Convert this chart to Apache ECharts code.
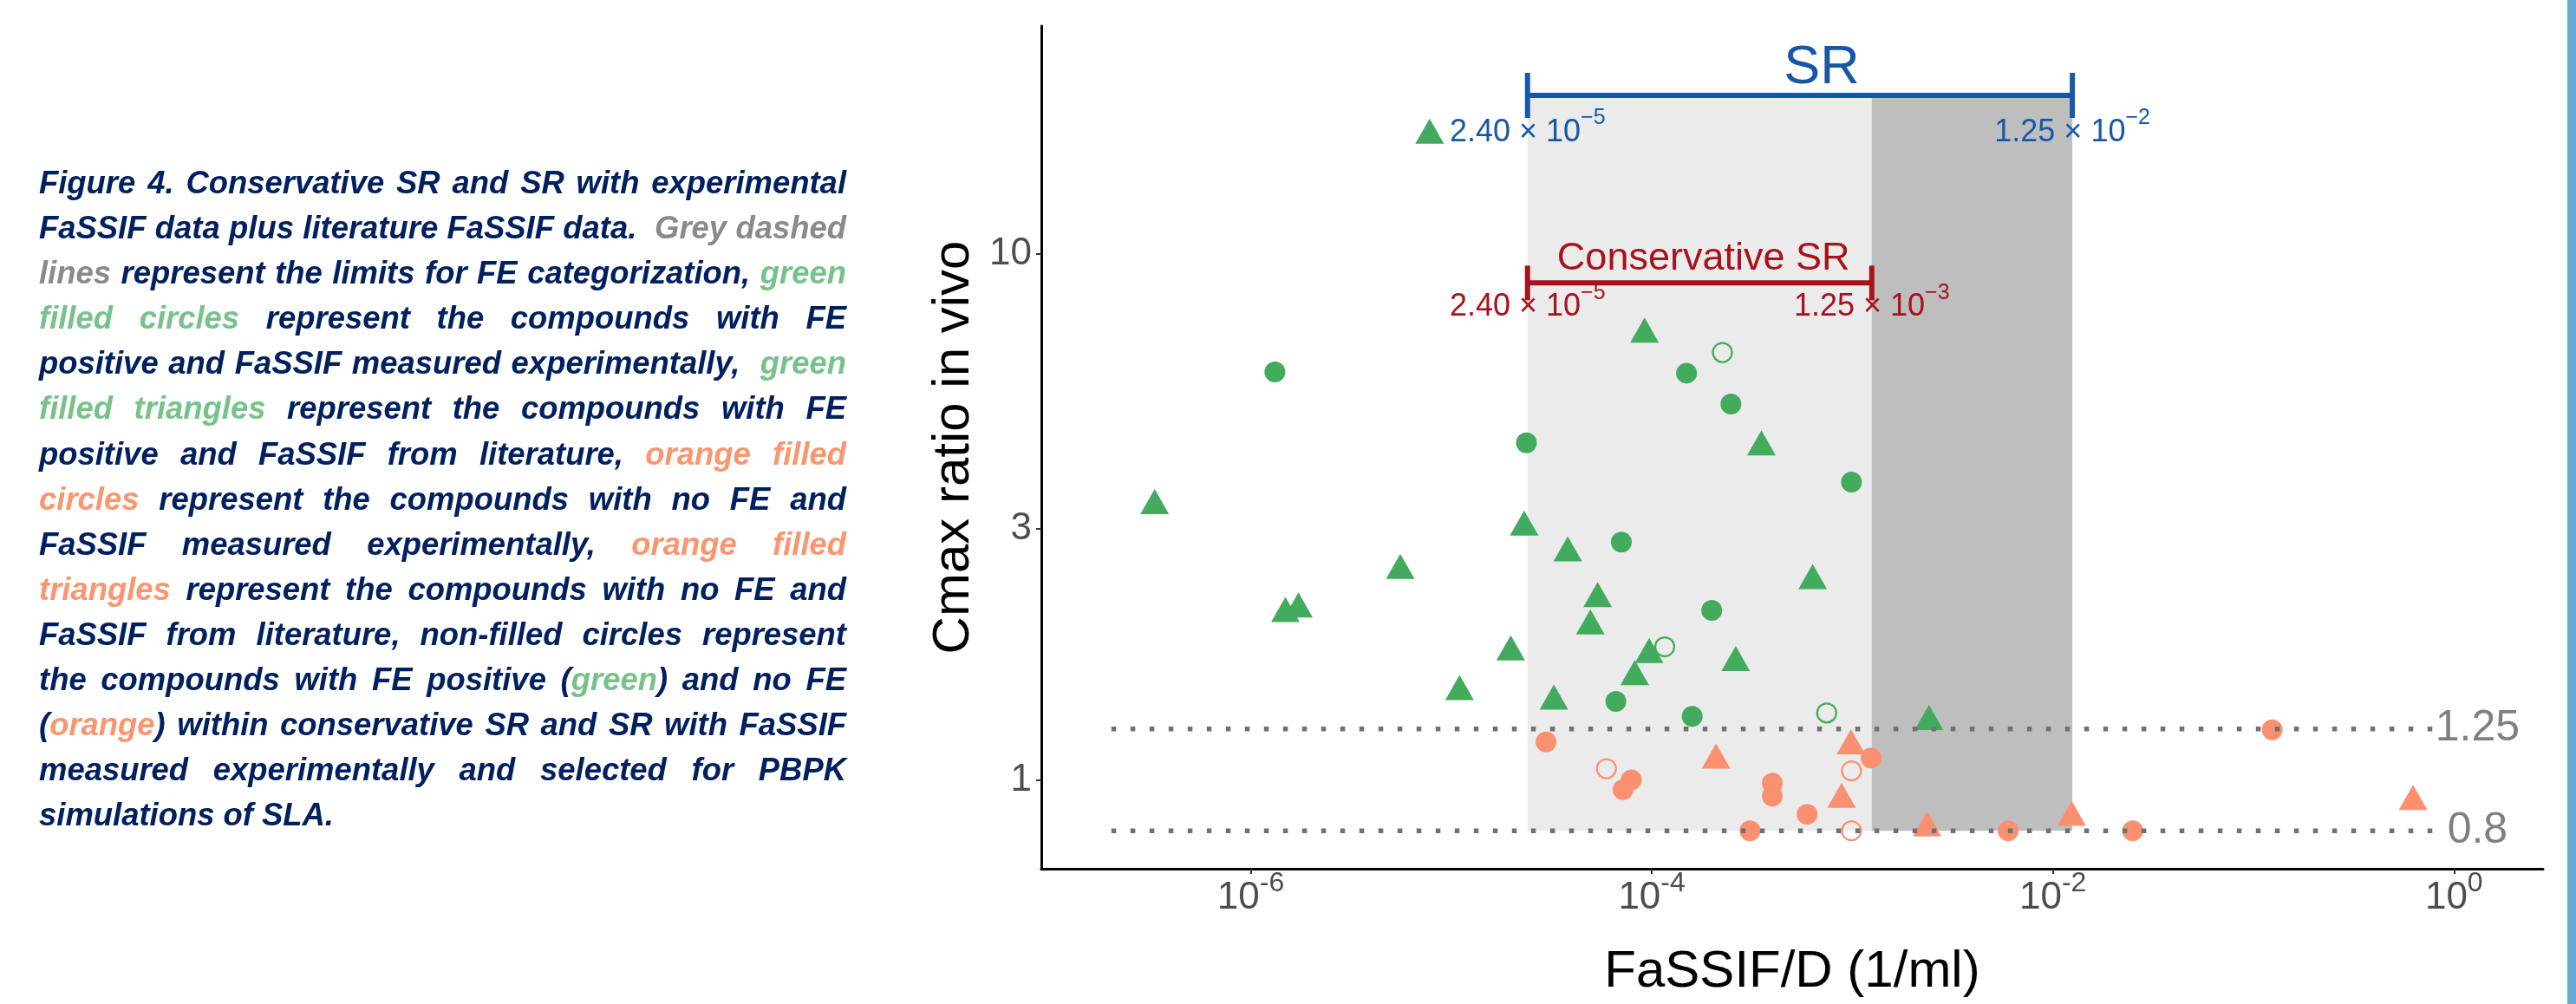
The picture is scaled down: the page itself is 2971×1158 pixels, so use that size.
<!DOCTYPE html>
<html>
<head>
<meta charset="utf-8">
<script src="https://cdn.jsdelivr.net/npm/echarts@6/dist/echarts.min.js"></script>
<style>
html,body{margin:0;padding:0;background:#fff;width:2971px;height:1158px;overflow:hidden}
#chart{position:absolute;left:0;top:0;width:2971px;height:1158px}
#caption{position:absolute;left:45px;top:184px;width:931px;font-family:"Liberation Sans Narrow","Liberation Sans",Arial,sans-serif;font-weight:bold;font-style:italic;font-size:37.5px;line-height:52.1px;color:#002060;transform-origin:0 0}
#caption .ln{text-align:justify;text-align-last:justify}
#caption .ln.last{text-align:left;text-align-last:left}
.gr{color:#8A8A8A}.gn{color:#77C18B}.or{color:#F9966F}
#stripe{position:absolute;left:2961px;top:0;width:10px;height:1158px;background:#66ABDC}
</style>
</head>
<body>
<div id="chart"></div>
<div id="caption">
<div class="ln">Figure 4. Conservative SR and SR with experimental</div>
<div class="ln">FaSSIF data plus literature FaSSIF data.&nbsp; <span class="gr">Grey dashed</span></div>
<div class="ln"><span class="gr">lines</span> represent the limits for FE categorization, <span class="gn">green</span></div>
<div class="ln"><span class="gn">filled circles</span> represent the compounds with FE</div>
<div class="ln">positive and FaSSIF measured experimentally,&nbsp; <span class="gn">green</span></div>
<div class="ln"><span class="gn">filled triangles</span> represent the compounds with FE</div>
<div class="ln">positive and FaSSIF from literature, <span class="or">orange filled</span></div>
<div class="ln"><span class="or">circles</span> represent the compounds with no FE and</div>
<div class="ln">FaSSIF measured experimentally, <span class="or">orange filled</span></div>
<div class="ln"><span class="or">triangles</span> represent the compounds with no FE and</div>
<div class="ln">FaSSIF from literature, non-filled circles represent</div>
<div class="ln">the compounds with FE positive (<span class="gn">green</span>) and no FE</div>
<div class="ln">(<span class="or">orange</span>) within conservative SR and SR with FaSSIF</div>
<div class="ln">measured experimentally and selected for PBPK</div>
<div class="ln last">simulations of SLA.</div>
</div>
<div id="stripe"></div>
<script>
// ---------------- DATA ----------------
const xTicks = [1e-6, 1e-4, 1e-2, 1];
const yTicks = [1, 3, 10];

// FE positive, FaSSIF measured (green filled circles)
const greenCircleX = [1.32e-6, 1.49e-4, 2.48e-4, 2.37e-5, 9.9e-4, 7.05e-5, 1.99e-4, 6.62e-5, 1.59e-4];
const greenCircleY = [5.96, 5.93, 5.18, 4.37, 3.68, 2.83, 2.10, 1.41, 1.32];

// FE positive, FaSSIF from literature (green triangles)
const greenTriX = [7.80e-6, 9.2e-5, 3.52e-4, 3.32e-7, 2.31e-5, 3.81e-5, 5.57e-6, 6.34e-4, 5.37e-5, 1.49e-6,
                   1.73e-6, 4.94e-5, 1.98e-5, 9.7e-5, 2.62e-4, 8.22e-5, 1.10e-5, 3.25e-5, 2.41e-3];
const greenTriY = [16.8, 7.03, 4.29, 3.32, 3.02, 2.70, 2.50, 2.39, 2.21, 2.07,
                   2.11, 1.96, 1.75, 1.73, 1.67, 1.57, 1.47, 1.41, 1.29];

// FE positive selected for PBPK (green open circles)
const greenOpenX = [2.25e-4, 1.16e-4, 7.45e-4];
const greenOpenY = [6.49, 1.79, 1.34];

// no FE, FaSSIF measured (orange filled circles)
const orangeCircleX = [2.97e-5, 7.91e-5, 7.19e-5, 3.99e-4, 3.99e-4, 5.95e-4, 3.09e-4, 1.24e-3, 5.98e-3, 0.025, 0.124];
const orangeCircleY = [1.18, 1.00, 0.958, 0.986, 0.931, 0.86, 0.80, 1.10, 0.80, 0.80, 1.245];

// no FE, FaSSIF from literature (orange triangles)
const orangeTriX = [2.09e-4, 9.84e-4, 8.83e-4, 2.36e-3, 0.0124, 0.625];
const orangeTriY = [1.09, 1.16, 0.918, 0.81, 0.848, 0.909];

// no FE selected for PBPK (orange open circles)
const orangeOpenX = [5.94e-5, 9.9e-4, 9.9e-4];
const orangeOpenY = [1.05, 1.04, 0.80];

// SR ranges
const srRange = [2.40e-5, 1.25e-2];
const srY = 20;
const consRange = [2.40e-5, 1.25e-3];
const consY = 8.8;
const shadeBottom = 0.8, shadeTop = 20;

// FE categorization limits
const feLimits = [1.25, 0.8];
const limitLineX = [2.02e-7, 0.789];

// annotation texts
const annTexts = ['SR', 'Conservative SR', 'sci:2.40:5', 'sci:1.25:2', 'sci:2.40:5', 'sci:1.25:3', '1.25', '0.8'];
const annX = [7.03e-4, 1.81e-4, 2.40e-5, 1.25e-2, 2.40e-5, 1.25e-3, 1.31, 1.31];
const annY = [23.0, 9.9, 17.0, 17.0, 7.82, 7.82, 1.25, 0.8];

// ---------------- STYLE ----------------
const FONT = '"Liberation Sans", Arial, Helvetica, sans-serif';
const BLUE = '#1758A6', RED = '#A8121C', GREEN = '#42AB5D', ORANGE = '#FB9070';
const TICKTXT = '#4D4D4D', LIMITGREY = '#7F7F7F';
const annStyle = [
  {color: BLUE, size: 63, dy: 5},
  {color: RED, size: 45, dy: 3},
  {color: BLUE, size: 36, dy: -1},
  {color: BLUE, size: 36, dy: -1},
  {color: RED, size: 36, dy: -4},
  {color: RED, size: 36, dy: -4},
  {color: LIMITGREY, size: 50, dy: 0},
  {color: LIMITGREY, size: 50, dy: 0}
];

function zip(a, b) { return a.map((v, i) => [v, b[i]]); }

const chart = echarts.init(document.getElementById('chart'), null, {renderer: 'canvas'});

const xMin = Math.pow(10, -7.044), xMax = Math.pow(10, 0.444);
const yMin = Math.pow(10, -0.169), yMax = Math.pow(10, 1.4329);

const triSize = [33, 29];
const triOffset = [0, -29 / 6];

function scatter(x, y, opt) {
  return Object.assign({
    type: 'scatter', data: zip(x, y), silent: true, z: 3, animation: false
  }, opt);
}

const option = {
  animation: false,
  backgroundColor: '#ffffff',
  grid: {left: 1201, right: 38, top: 30, bottom: 156},
  xAxis: {
    type: 'log', logBase: 10, min: xMin, max: xMax,
    name: 'FaSSIF/D (1/ml)', nameLocation: 'middle', nameGap: 89,
    nameTextStyle: {fontSize: 60, color: '#000', fontFamily: FONT},
    axisLine: {show: true, onZero: false, lineStyle: {color: '#000', width: 3}},
    axisTick: {show: true, length: 6, lineStyle: {color: '#333', width: 2}, customValues: xTicks},
    axisLabel: {
      customValues: xTicks, margin: 9.5,
      formatter: v => '{b|10}{s|' + Math.round(Math.log10(v)) + '}',
      rich: {
        b: {fontSize: 44, lineHeight: 46, color: TICKTXT, fontFamily: FONT, verticalAlign: 'bottom'},
        s: {fontSize: 32, lineHeight: 32, padding: [0, 0, 22, 0], color: TICKTXT, fontFamily: FONT, verticalAlign: 'bottom'}
      }
    },
    splitLine: {show: false}, minorTick: {show: false}, minorSplitLine: {show: false}
  },
  yAxis: {
    type: 'log', logBase: 10, min: yMin, max: yMax,
    name: 'Cmax ratio in vivo', nameLocation: 'middle', nameGap: 67, nameRotate: 90,
    nameTextStyle: {fontSize: 60, color: '#000', fontFamily: FONT},
    axisLine: {show: true, onZero: false, lineStyle: {color: '#000', width: 3}},
    axisTick: {show: true, length: 6, lineStyle: {color: '#333', width: 2}, customValues: yTicks},
    axisLabel: {
      customValues: yTicks, margin: 11, fontSize: 44, color: TICKTXT, fontFamily: FONT,
      formatter: v => String(Math.round(v * 100) / 100)
    },
    splitLine: {show: false}, minorTick: {show: false}, minorSplitLine: {show: false}
  },
  series: [
    {
      type: 'custom', z: 1, silent: true, animation: false,
      data: [[srRange[0], consRange[1], shadeBottom, shadeTop], [consRange[1], srRange[1], shadeBottom, shadeTop]],
      encode: {x: [0, 1], y: [2, 3]},
      renderItem: function (params, api) {
        const p1 = api.coord([api.value(0), api.value(3)]);
        const p2 = api.coord([api.value(1), api.value(2)]);
        const fills = ['#EBEBEB', '#BEBEBE'];
        return {type: 'rect', shape: {x: p1[0], y: p1[1], width: p2[0] - p1[0], height: p2[1] - p1[1]},
                style: {fill: fills[params.dataIndex]}};
      }
    },
    {
      type: 'custom', z: 2, silent: true, animation: false,
      data: [[srRange[0], srRange[1], srY], [consRange[0], consRange[1], consY]],
      encode: {x: [0, 1], y: 2},
      renderItem: function (params, api) {
        const i = params.dataIndex;
        const a = api.coord([api.value(0), api.value(2)]);
        const b = api.coord([api.value(1), api.value(2)]);
        const half = [26, 20][i], c = [BLUE, RED][i], w = 6;
        return {type: 'group', children: [
          {type: 'line', shape: {x1: a[0], y1: a[1], x2: b[0], y2: b[1]}, style: {stroke: c, lineWidth: w}},
          {type: 'line', shape: {x1: a[0], y1: a[1] - half, x2: a[0], y2: a[1] + half}, style: {stroke: c, lineWidth: w}},
          {type: 'line', shape: {x1: b[0], y1: b[1] - half, x2: b[0], y2: b[1] + half}, style: {stroke: c, lineWidth: w}}
        ]};
      }
    },
    scatter(greenTriX, greenTriY, {symbol: 'triangle', symbolSize: triSize, symbolOffset: triOffset, itemStyle: {color: GREEN, opacity: 1}}),
    scatter(greenCircleX, greenCircleY, {symbol: 'circle', symbolSize: 24, itemStyle: {color: GREEN, opacity: 1}}),
    scatter(greenOpenX, greenOpenY, {symbol: 'circle', symbolSize: 22, itemStyle: {color: 'rgba(0,0,0,0)', borderColor: GREEN, borderWidth: 2.2, opacity: 1}}),
    scatter(orangeTriX, orangeTriY, {symbol: 'triangle', symbolSize: triSize, symbolOffset: triOffset, itemStyle: {color: ORANGE, opacity: 1}}),
    scatter(orangeCircleX, orangeCircleY, {symbol: 'circle', symbolSize: 24, itemStyle: {color: ORANGE, opacity: 1}}),
    scatter(orangeOpenX, orangeOpenY, {symbol: 'circle', symbolSize: 22, itemStyle: {color: 'rgba(0,0,0,0)', borderColor: ORANGE, borderWidth: 2.2, opacity: 1}}),
    ...feLimits.map(v => ({
      type: 'line', z: 4, silent: true, animation: false, showSymbol: false, symbol: 'none',
      data: [[limitLineX[0], v], [limitLineX[1], v]],
      lineStyle: {color: '#707070', width: 5.5, type: [5.5, 16.5], cap: 'butt'}
    })),
    {
      type: 'custom', z: 5, silent: true, animation: false,
      data: zip(annX, annY),
      encode: {x: 0, y: 1},
      renderItem: function (params, api) {
        const i = params.dataIndex;
        const p = api.coord([api.value(0), api.value(1)]);
        const st = annStyle[i];
        const t = annTexts[i];
        let style;
        if (t.indexOf('sci:') === 0) {
          const parts = t.split(':');
          style = {
            text: '{n|' + parts[1] + ' \u00d7 10}{e|\u2212' + parts[2] + '}',
            rich: {
              n: {fontSize: st.size, lineHeight: 38, fill: st.color, fontFamily: FONT, verticalAlign: 'bottom'},
              e: {fontSize: 25, lineHeight: 25, padding: [0, 0, 22, 0], fill: st.color, fontFamily: FONT, verticalAlign: 'bottom'}
            },
            fill: st.color, fontFamily: FONT, fontSize: st.size
          };
        } else {
          style = {text: t, fill: st.color, fontFamily: FONT, fontSize: st.size};
        }
        style.align = 'center';
        style.verticalAlign = 'middle';
        return {type: 'text', x: p[0], y: p[1] + st.dy, style: style};
      }
    }
  ]
};
chart.setOption(option);

// fit caption lines to the column width
function fitCaption() {
  const cap = document.getElementById('caption');
  cap.style.transform = 'none';
  cap.style.width = '931px';
  const lines = cap.querySelectorAll('.ln');
  let maxW = 0;
  lines.forEach(l => {
    const s = document.createElement('span');
    s.style.whiteSpace = 'nowrap';
    s.style.position = 'absolute';
    s.style.visibility = 'hidden';
    s.innerHTML = l.innerHTML;
    cap.appendChild(s);
    maxW = Math.max(maxW, s.getBoundingClientRect().width);
    cap.removeChild(s);
  });
  const W = 931;
  if (maxW > 0) {
    const r = (maxW + 2) / W;
    cap.style.width = (W * r) + 'px';
    cap.style.transform = 'scaleX(' + (1 / r) + ')';
  }
}
fitCaption();
if (document.fonts && document.fonts.ready) document.fonts.ready.then(fitCaption);
</script>
</body>
</html>
